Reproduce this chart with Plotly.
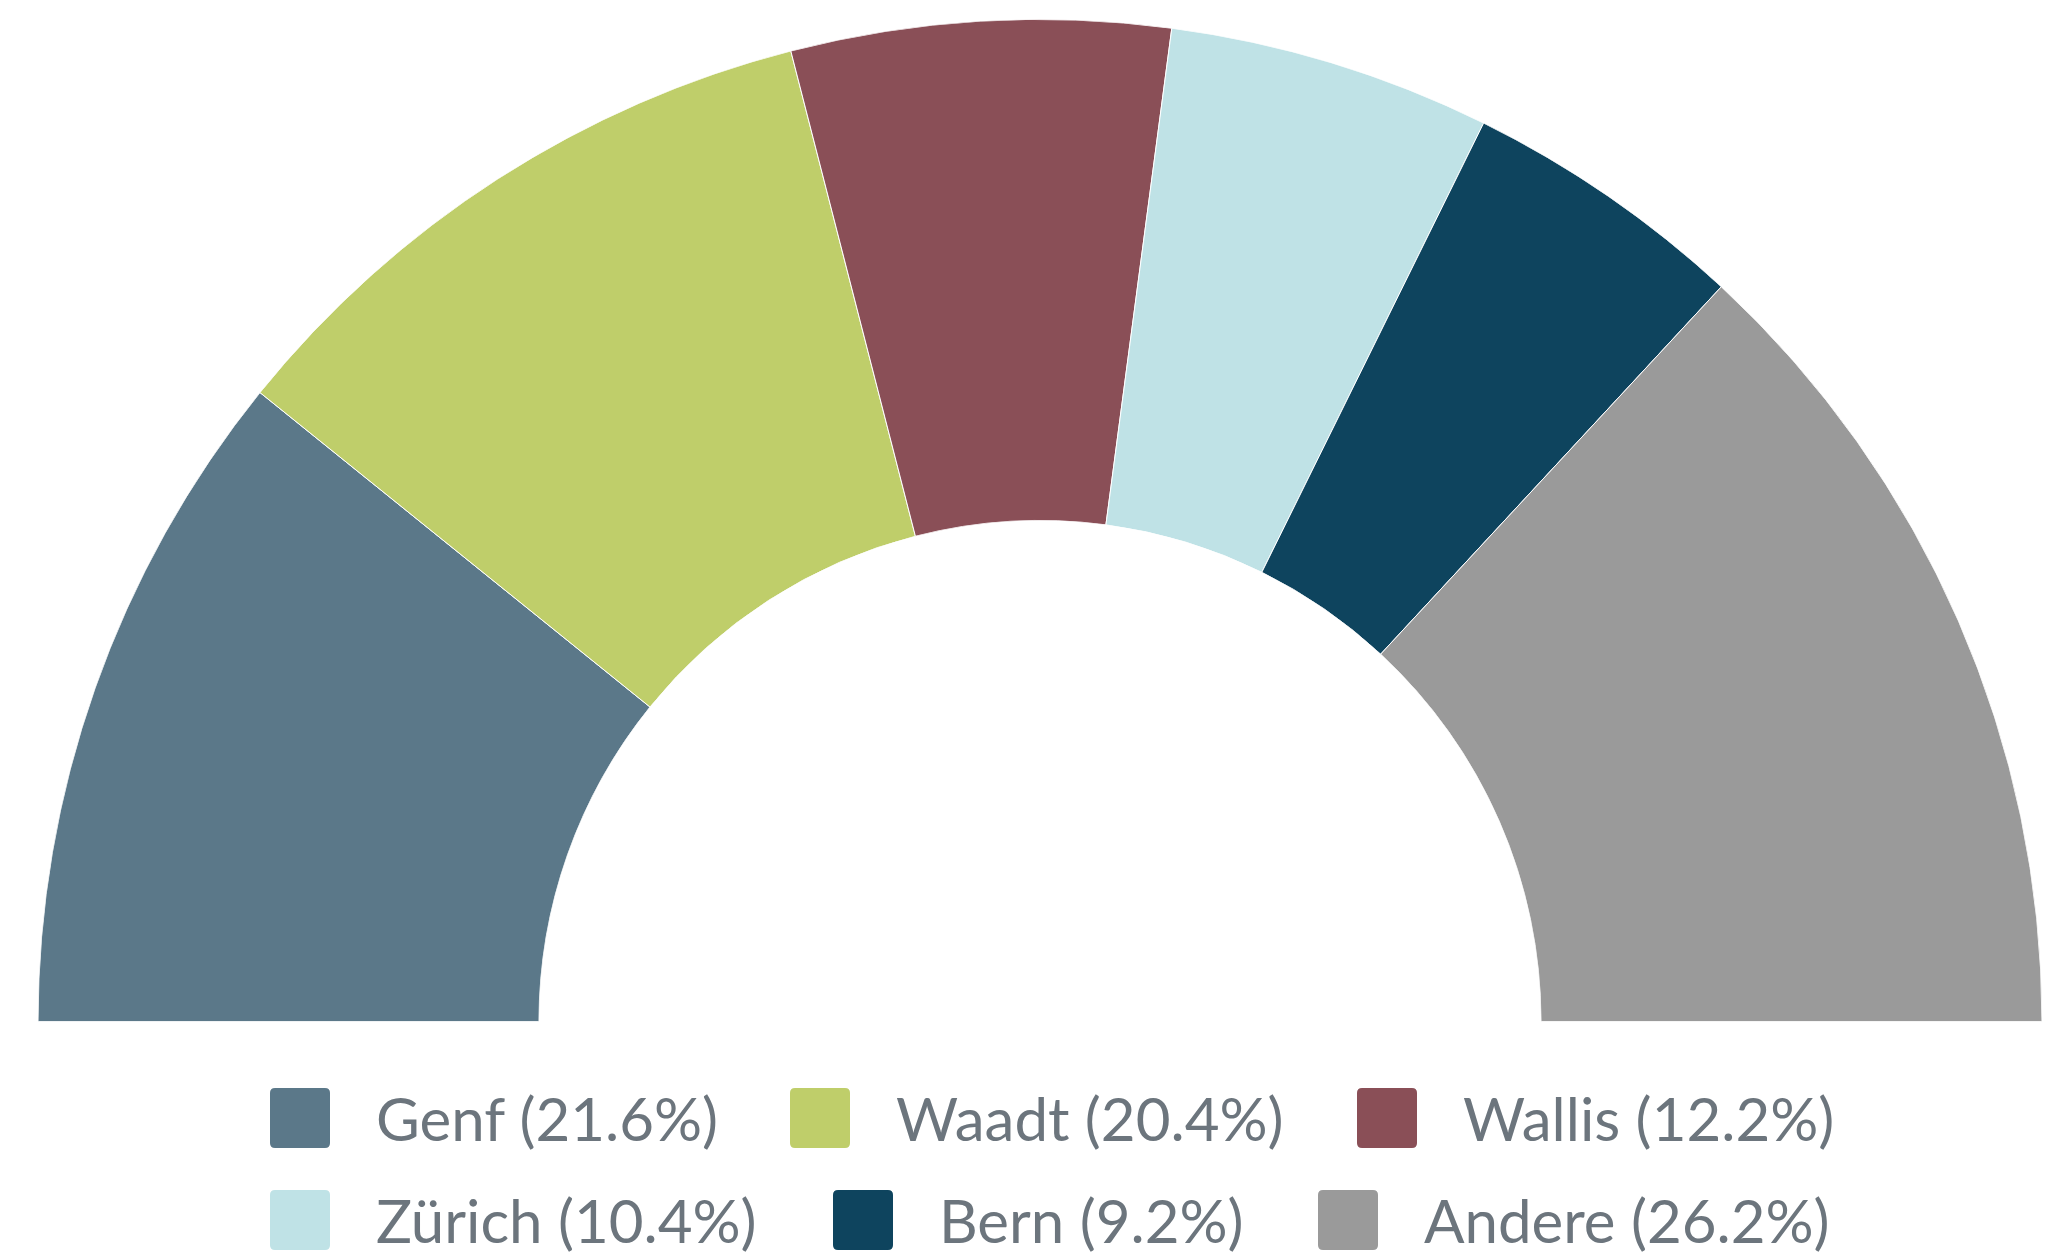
import plotly.graph_objects as go

# ---- data ----
labels = ["Genf", "Waadt", "Wallis", "Zürich", "Bern", "Andere"]
values = [21.6, 20.4, 12.2, 10.4, 9.2, 26.2]
colors = ["#5B7889", "#BFCE6A", "#8A4F57", "#BFE2E6", "#0E445E", "#9A9A9A"]

# ---- layout constants (pixels) ----
W, H = 2072, 1260
legend_rows = [0, 0, 0, 1, 1, 1]
legend_marker_left = [270, 790, 1357, 270, 833, 1318]
legend_row_center = [1118, 1220]
marker_size = 60
text_gap = 104
text_color = "#6C757D"

total = sum(values)
thetas, widths = [], []
cum = 0.0
for v in values:
    w = v / total * 180.0
    thetas.append(180.0 - (cum + w / 2.0))
    widths.append(w)
    cum += w

fig = go.Figure()
fig.add_trace(go.Barpolar(
    r=[1] * len(values),
    theta=thetas,
    width=widths,
    marker=dict(color=colors, line=dict(color="white", width=1)),
    text=labels,
    customdata=values,
    hovertemplate="%{text}: %{customdata}%<extra></extra>",
    showlegend=False,
))

fig.update_layout(
    width=W, height=H,
    margin=dict(l=0, r=0, t=0, b=0),
    paper_bgcolor="white",
    plot_bgcolor="white",
    polar=dict(
        domain=dict(x=[38 / W, 2042 / W], y=[1 - 1021.5 / H, 1 - 19.5 / H]),
        sector=[0, 180],
        hole=0.5,
        bgcolor="rgba(0,0,0,0)",
        radialaxis=dict(visible=False, range=[0, 1]),
        angularaxis=dict(visible=False, direction="counterclockwise", rotation=0,
                         showgrid=False, showline=False, showticklabels=False, ticks=""),
    ),
    font=dict(family="Lato", color=text_color),
)


def px(x):
    return x / W


def py(y):
    return 1 - y / H


def rounded_rect(x0, y0, x1, y1, r):
    return (f"M {px(x0 + r)},{py(y0)} L {px(x1 - r)},{py(y0)} "
            f"Q {px(x1)},{py(y0)} {px(x1)},{py(y0 + r)} "
            f"L {px(x1)},{py(y1 - r)} Q {px(x1)},{py(y1)} {px(x1 - r)},{py(y1)} "
            f"L {px(x0 + r)},{py(y1)} Q {px(x0)},{py(y1)} {px(x0)},{py(y1 - r)} "
            f"L {px(x0)},{py(y0 + r)} Q {px(x0)},{py(y0)} {px(x0 + r)},{py(y0)} Z")


shapes, annotations = [], []
for i, (lab, val, col) in enumerate(zip(labels, values, colors)):
    cy = legend_row_center[legend_rows[i]]
    x0 = legend_marker_left[i]
    shapes.append(dict(
        type="path", xref="paper", yref="paper",
        path=rounded_rect(x0, cy - marker_size / 2, x0 + marker_size, cy + marker_size / 2, 5),
        fillcolor=col, line=dict(width=0), layer="above",
    ))
    annotations.append(dict(
        xref="paper", yref="paper", x=px(x0 + text_gap), y=py(cy),
        xanchor="left", yanchor="middle", showarrow=False,
        text=f"{lab} ({val:.1f}%)",
        font=dict(family="Lato", size=60, color=text_color),
    ))

fig.update_layout(shapes=shapes, annotations=annotations)
fig.write_html("out.html")
